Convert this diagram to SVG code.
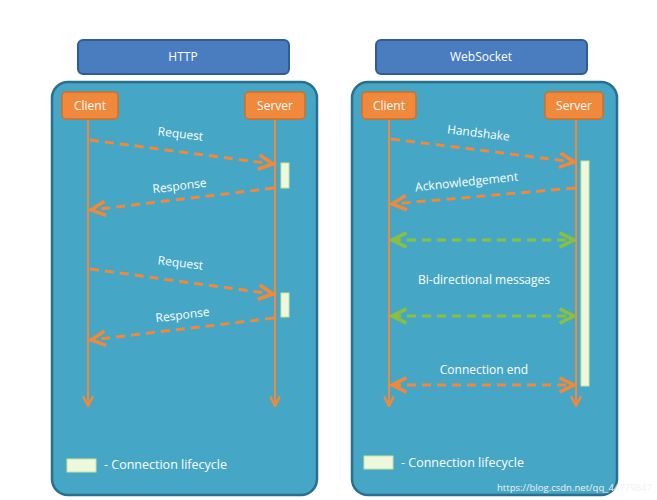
<svg xmlns="http://www.w3.org/2000/svg" width="657" height="500" viewBox="0 0 657 500">
<style>
.hdr{fill:#4a7cc0;stroke:#2f5c96;stroke-width:2}
.pnl{fill:#45a6c6;stroke:#2a6f8d;stroke-width:2.5}
.act{fill:#f0893b;stroke:#d86d22;stroke-width:1.5}
.life{stroke:#f0893b;stroke-width:2;fill:none}
.msg{stroke:#f0893b;stroke-width:3;stroke-dasharray:9 6;fill:none}
.bi{stroke:#8cbf3f;stroke-width:3;stroke-dasharray:9 6;fill:none}
.bar{fill:#eef8dc;stroke:#c9e39c;stroke-width:1}
text{font-family:"Open Sans","Liberation Sans",sans-serif;fill:#fff;font-size:12px}
.lbl{text-anchor:middle}
.leg{fill:#fff;font-size:12.5px}
</style>
<defs>
<marker id="ao" viewBox="0 0 10 10" refX="9" refY="5" markerWidth="6" markerHeight="6" orient="auto-start-reverse"><path d="M1 1 L9 5 L1 9" fill="none" stroke="#f0893b" stroke-width="2"/></marker>
<marker id="ag" viewBox="0 0 10 10" refX="9" refY="5" markerWidth="6" markerHeight="6" orient="auto-start-reverse"><path d="M1 1 L9 5 L1 9" fill="none" stroke="#8cbf3f" stroke-width="2"/></marker>
</defs>
<rect x="0" y="0" width="657" height="500" fill="#fff"/>
<g id="http-header"><rect class="hdr" x="78" y="40" width="211" height="34" rx="5"/><text class="lbl" x="183" y="61">HTTP</text></g>
<g id="ws-header"><rect class="hdr" x="376" y="40" width="211" height="34" rx="5"/><text class="lbl" x="481" y="61">WebSocket</text></g>
<g id="http-panel"><rect class="pnl" x="52" y="82" width="265" height="413" rx="16"/></g>
<g id="ws-panel"><rect class="pnl" x="352" y="82" width="265" height="413" rx="16"/></g>
<g id="connectors">
<line class="life" x1="88" y1="119" x2="88" y2="406" marker-end="url(#ao)"/>
<line class="life" x1="275" y1="119" x2="275" y2="406" marker-end="url(#ao)"/>
<line class="life" x1="389" y1="119" x2="389" y2="406" marker-end="url(#ao)"/>
<line class="life" x1="576" y1="119" x2="576" y2="406" marker-end="url(#ao)"/>
<line class="msg" x1="90" y1="140" x2="273" y2="164" marker-end="url(#ao)"/>
<line class="msg" x1="274" y1="188" x2="91" y2="210" marker-end="url(#ao)"/>
<line class="msg" x1="90" y1="269" x2="273" y2="294" marker-end="url(#ao)"/>
<line class="msg" x1="274" y1="318" x2="91" y2="340" marker-end="url(#ao)"/>
<line class="msg" x1="391" y1="139" x2="574" y2="162" marker-end="url(#ao)"/>
<line class="msg" x1="575" y1="188" x2="392" y2="204" marker-end="url(#ao)"/>
<line class="bi" x1="392" y1="240" x2="574" y2="240" marker-start="url(#ag)" marker-end="url(#ag)"/>
<line class="bi" x1="392" y1="316" x2="574" y2="316" marker-start="url(#ag)" marker-end="url(#ag)"/>
<line class="msg" x1="392" y1="385" x2="574" y2="385" marker-start="url(#ao)" marker-end="url(#ao)"/>
</g>
<g id="http-client"><rect class="act" x="62" y="92" width="56" height="27" rx="4"/><text class="lbl" x="90" y="110">Client</text></g>
<g id="http-server"><rect class="act" x="245" y="92" width="60" height="27" rx="4"/><text class="lbl" x="275" y="110">Server</text></g>
<g id="ws-client"><rect class="act" x="362" y="92" width="54" height="27" rx="4"/><text class="lbl" x="389" y="110">Client</text></g>
<g id="ws-server"><rect class="act" x="545" y="92" width="58" height="27" rx="4"/><text class="lbl" x="574" y="110">Server</text></g>
<g id="bars">
<rect class="bar" x="281" y="163" width="8" height="25"/>
<rect class="bar" x="281" y="293" width="8" height="24"/>
<rect class="bar" x="581" y="161" width="8" height="225"/>
</g>
<g id="labels">
<text class="lbl" x="180" y="138" transform="rotate(7 180 138)">Request</text>
<text class="lbl" x="180" y="190" transform="rotate(-7 180 190)">Response</text>
<text class="lbl" x="180" y="267" transform="rotate(7 180 267)">Request</text>
<text class="lbl" x="183" y="319" transform="rotate(-7 183 319)">Response</text>
<text class="lbl" x="478" y="137" transform="rotate(7 478 137)">Handshake</text>
<text class="lbl" x="467" y="186" transform="rotate(-6 467 186)">Acknowledgement</text>
<text class="lbl" x="484" y="284">Bi-directional messages</text>
<text class="lbl" x="484" y="374">Connection end</text>
</g>
<g id="legend-http"><rect class="bar" x="67" y="459" width="29" height="13"/><text class="leg" x="104" y="469">- Connection lifecycle</text></g>
<g id="legend-ws"><rect class="bar" x="364" y="456" width="29" height="13"/><text class="leg" x="401" y="467">- Connection lifecycle</text></g>
<text x="497" y="491" textLength="155" lengthAdjust="spacingAndGlyphs" style="font-size:9.5px;fill:#f2f2f2">https://blog.csdn.net/qq_44779847</text>
</svg>
